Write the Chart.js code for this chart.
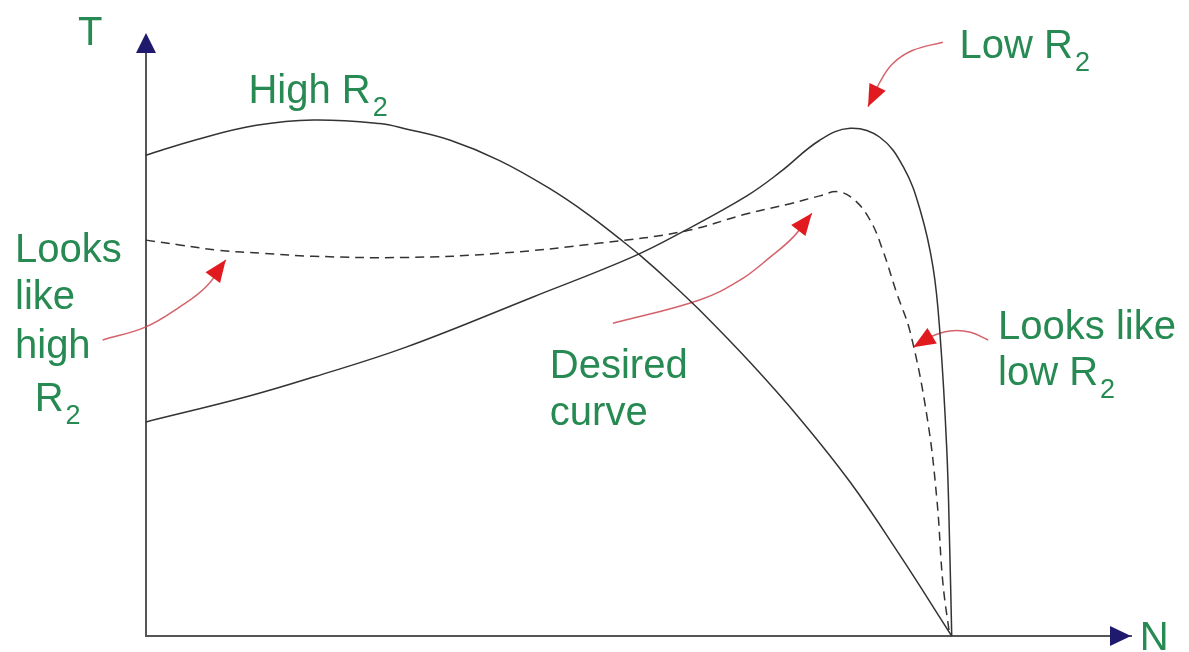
<!DOCTYPE html>
<html>
<head>
<meta charset="utf-8">
<script src="https://cdn.jsdelivr.net/npm/chart.js@4/dist/chart.umd.min.js"></script>
<style>
  body { margin: 0; background: #fff; }
  #graph { display: block; }
</style>
</head>
<body>
<canvas id="graph" width="1189" height="652"></canvas>
<script>
// N from 0 (origin) to 100 (axis arrow), T from 0 to 100
const highN = [0, 5.1, 11.2, 17.0, 23.7, 26.4, 30.9, 35.9, 41.0, 44.8, 48.1, 50.2, 53.2, 56.2, 61.3, 66.4, 71.5, 76.5, 81.8];
const highT = [80.4, 83.0, 85.4, 86.3, 85.7, 84.8, 82.9, 79.5, 74.8, 70.6, 66.4, 63.6, 59.2, 54.5, 45.8, 36.3, 25.7, 13.6, 0];

const lowN = [0, 10.2, 17.0, 26.4, 39.3, 49.4, 54.7, 61.0, 64.4, 68.4, 71.5, 74.5, 76.9, 78.6, 79.9, 80.6, 81.3, 81.6, 81.8];
const lowT = [35.8, 40.0, 43.3, 48.3, 56.7, 63.4, 67.8, 73.6, 77.6, 82.9, 84.9, 83.4, 78.4, 71.2, 61.7, 50.7, 31.1, 14.4, 0];

const desiredN = [0, 3.4, 7.4, 11.9, 17.0, 26.4, 35.9, 46.1, 54.7, 61.0, 65.4, 68.4, 70.2, 71.8, 73.5, 74.8, 76.2, 77.6, 79.3, 80.3, 80.9, 81.6];
const desiredT = [66.2, 65.4, 64.5, 64.0, 63.5, 63.3, 64.0, 65.7, 67.7, 70.6, 72.3, 73.6, 74.3, 73.1, 69.6, 64.5, 57.4, 50.7, 36.6, 22.7, 8.9, 0];

// red pointer arrows (last point = tip)
const arrowHighN = [-4.4, 0, 3.4, 6.1, 8.1];
const arrowHighT = [49.5, 51.7, 55.0, 58.4, 62.9];
const arrowLowN = [80.9, 77.8, 75.8, 74.5, 73.3];
const arrowLowT = [99.3, 97.9, 95.7, 92.6, 88.5];
const arrowDesiredN = [47.4, 56.2, 60.3, 63.4, 65.7, 67.6];
const arrowDesiredT = [52.3, 56.2, 59.5, 63.4, 66.7, 70.7];
const arrowLooksLowN = [85.5, 83.7, 81.6, 79.6, 77.9];
const arrowLooksLowT = [49.5, 50.8, 51.0, 50.0, 48.3];

const GREEN = "#268a52";
const CURVE = "#333333";
const RED_LINE = "rgba(205, 70, 80, 0.85)";
const RED_HEAD = "#e01a1e";
const NAVY = "#1f1a6e";

// text notes, placed in N/T units
const notes = [
  { text: "T", n: -6.9, t: 98.8 },
  { text: "High R", sub: "2", n: 10.4, t: 89.1 },
  { text: "Looks", n: -13.3, t: 62.5 },
  { text: "like", n: -13.3, t: 54.7 },
  { text: "high", n: -13.3, t: 46.5 },
  { text: "R", sub: "2", n: -11.3, t: 37.6 },
  { text: "Low R", sub: "2", n: 82.6, t: 96.7 },
  { text: "Desired", n: 41.0, t: 43.1 },
  { text: "curve", n: 41.0, t: 35.3 },
  { text: "Looks like", n: 86.5, t: 49.7 },
  { text: "low R", sub: "2", n: 86.5, t: 42.0 },
  { text: "N", n: 100.9, t: -2.3 },
];

const toPoints = (xs, ys) => xs.map((x, i) => ({ x: x, y: ys[i] }));

function curve(xs, ys, dash) {
  return {
    data: toPoints(xs, ys),
    borderColor: CURVE,
    borderWidth: 1.5,
    borderDash: dash || [],
    pointRadius: 0,
    tension: 0.4,
    clip: false,
  };
}

function pointer(xs, ys) {
  return {
    data: toPoints(xs, ys),
    borderColor: RED_LINE,
    borderWidth: 1.5,
    pointRadius: 0,
    tension: 0.4,
    clip: false,
    isPointer: true,
  };
}

const overlay = {
  id: "overlay",
  afterDatasetsDraw(chart) {
    const { ctx, chartArea: a, scales } = chart;
    ctx.save();

    // axis arrow heads
    ctx.fillStyle = NAVY;
    ctx.beginPath();
    ctx.moveTo(a.left, a.top - 5);
    ctx.lineTo(a.left - 10, a.top + 15);
    ctx.lineTo(a.left + 10, a.top + 15);
    ctx.closePath();
    ctx.fill();
    ctx.beginPath();
    ctx.moveTo(a.right, a.bottom);
    ctx.lineTo(a.right - 21, a.bottom - 10);
    ctx.lineTo(a.right - 21, a.bottom + 10);
    ctx.closePath();
    ctx.fill();

    // red heads at the end of each pointer
    ctx.fillStyle = RED_HEAD;
    chart.data.datasets.forEach((ds, i) => {
      if (!ds.isPointer) return;
      const pts = chart.getDatasetMeta(i).data;
      const tip = pts[pts.length - 1];
      let fx = tip.cp1x, fy = tip.cp1y;
      if (fx === undefined || (fx === tip.x && fy === tip.y)) {
        fx = pts[pts.length - 2].x;
        fy = pts[pts.length - 2].y;
      }
      const ang = Math.atan2(tip.y - fy, tip.x - fx);
      const len = 22, half = 9;
      const bx = tip.x - len * Math.cos(ang), by = tip.y - len * Math.sin(ang);
      ctx.beginPath();
      ctx.moveTo(tip.x, tip.y);
      ctx.lineTo(bx + half * Math.sin(ang), by - half * Math.cos(ang));
      ctx.lineTo(bx - half * Math.sin(ang), by + half * Math.cos(ang));
      ctx.closePath();
      ctx.fill();
    });

    // text
    ctx.fillStyle = GREEN;
    ctx.textBaseline = "alphabetic";
    ctx.textAlign = "left";
    notes.forEach((note) => {
      const px = scales.x.getPixelForValue(note.n);
      const py = scales.y.getPixelForValue(note.t);
      ctx.font = '40px "Liberation Sans", Arial, sans-serif';
      ctx.fillText(note.text, px, py);
      if (note.sub) {
        const w = ctx.measureText(note.text).width;
        ctx.font = '27px "Liberation Sans", Arial, sans-serif';
        ctx.fillText(note.sub, px + w + 2, py + 13);
      }
    });
    ctx.restore();
  },
};

new Chart(document.getElementById("graph"), {
  type: "scatter",
  data: {
    datasets: [
      curve(highN, highT),
      curve(lowN, lowT),
      curve(desiredN, desiredT, [9, 6]),
      pointer(arrowHighN, arrowHighT),
      pointer(arrowLowN, arrowLowT),
      pointer(arrowDesiredN, arrowDesiredT),
      pointer(arrowLooksLowN, arrowLooksLowT),
    ],
  },
  options: {
    responsive: false,
    animation: false,
    showLine: true,
    layout: { padding: { left: 146, right: 58, top: 38, bottom: 16 } },
    plugins: { legend: { display: false }, tooltip: { enabled: false } },
    scales: {
      x: {
        type: "linear",
        min: 0,
        max: 100,
        ticks: { display: false },
        grid: { display: false, drawTicks: false },
        border: { display: true, color: "#555", width: 2 },
      },
      y: {
        type: "linear",
        min: 0,
        max: 100,
        ticks: { display: false },
        grid: { display: false, drawTicks: false },
        border: { display: true, color: "#555", width: 2 },
      },
    },
  },
  plugins: [overlay],
});
</script>
</body>
</html>
